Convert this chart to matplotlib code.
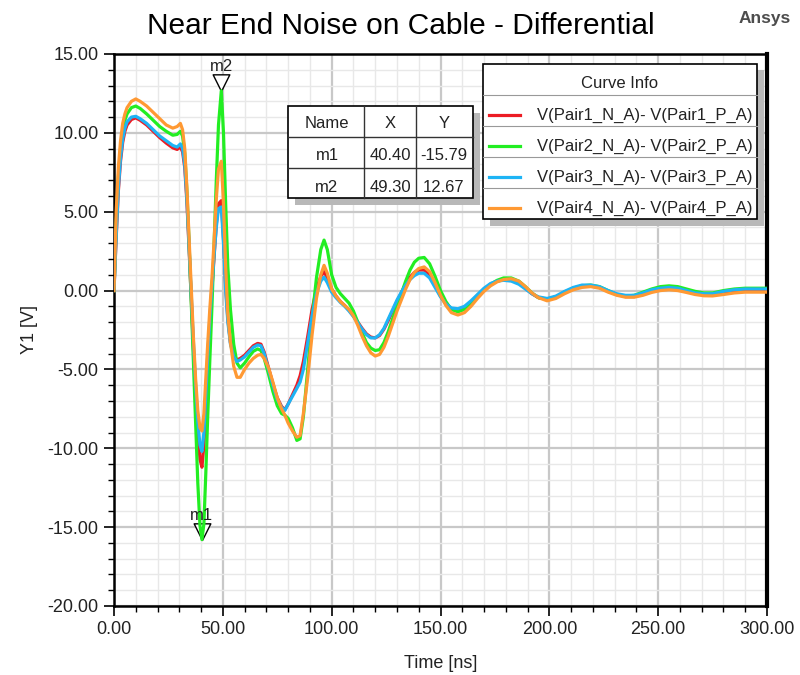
import matplotlib
matplotlib.use("Agg")
import matplotlib.pyplot as plt
from matplotlib.patches import Rectangle
from matplotlib.path import Path
from matplotlib.ticker import MultipleLocator, FormatStrFormatter

plt.rcParams['font.family'] = ['Liberation Sans', 'DejaVu Sans']

# time axis [ns]
time_ns = [0, 1, 2, 3, 4, 5, 6, 8, 10, 12,
           15, 18, 21, 24, 27, 29, 30.5, 31.5, 32.5, 33.5,
           34.5, 35.5, 36.5, 37.5, 38.5, 39.5, 40.4, 41.3, 42.2, 43,
           44, 45, 46, 47, 48, 49.3, 50.3, 51.3, 52.3, 53.5,
           55, 56.5, 58, 60, 62, 64, 66, 67.5, 69, 71,
           73, 75, 77, 78.5, 80, 82, 84, 85.5, 87, 89,
           91, 93, 95, 96.5, 98, 100, 102, 104, 106, 108,
           110, 112, 114, 116, 118, 120, 122, 124, 126, 128,
           130, 132, 134, 136, 138, 140, 142.5, 145, 147.5, 150,
           152.5, 155, 158, 161, 164, 167, 170, 173, 176, 179,
           182.5, 186, 189, 192, 195, 199, 203, 207, 211, 215,
           219, 223, 227, 231, 235, 239, 243, 247, 251, 255,
           259, 263, 267, 271, 275, 280, 285, 290, 295, 300]

pair1 = [0, 3.3, 6.3, 8.2, 9.4, 10.1, 10.5, 10.85, 10.95, 10.8,
         10.5, 10.1, 9.7, 9.35, 9.05, 8.95, 9.1, 8.8, 7.8, 5.6,
         2.6, -0.6, -3.7, -6.5, -8.9, -10.7, -11.2, -9.8, -7.2, -4.8,
         -2.2, 0.1, 2.2, 4.2, 5.5, 5.7, 3.3, 0.3, -1.8, -3.3,
         -4.1, -4.4, -4.3, -4.1, -3.8, -3.5, -3.35, -3.4, -3.9, -4.9,
         -5.9, -6.8, -7.35, -7.55, -7.2, -6.6, -6.0, -5.4, -4.5, -2.9,
         -1.2, 0.1, 0.9, 1.2, 0.8, 0.1, -0.35, -0.7, -0.95, -1.25,
         -1.6, -2.0, -2.4, -2.75, -2.95, -3.0, -2.85, -2.45, -1.9, -1.3,
         -0.7, -0.15, 0.4, 0.85, 1.15, 1.3, 1.3, 1.0, 0.35, -0.35,
         -0.85, -1.15, -1.25, -1.1, -0.75, -0.3, 0.1, 0.4, 0.6, 0.7,
         0.7, 0.5, 0.15, -0.2, -0.45, -0.55, -0.4, -0.1, 0.15, 0.3,
         0.3, 0.2, -0.05, -0.25, -0.38, -0.38, -0.22, -0.05, 0.08, 0.12,
         0.08, -0.05, -0.2, -0.27, -0.27, -0.15, -0.05, 0.0, 0.0, 0.0]

pair2 = [0, 4.2, 7.2, 9.0, 10.1, 10.8, 11.2, 11.6, 11.7, 11.55,
         11.2, 10.8, 10.4, 10.1, 9.85, 9.9, 10.1, 9.8, 8.7, 6.3,
         3.0, -0.8, -4.5, -8.5, -12.2, -14.9, -15.79, -14.8, -11.5, -8.2,
         -4.5, -1.0, 3.0, 7.0, 10.5, 12.67, 10.0, 5.5, 1.5, -1.2,
         -3.4, -4.6, -4.9, -4.6, -4.2, -3.85, -3.7, -3.8, -4.3, -5.3,
         -6.4, -7.3, -7.8, -7.9, -8.1, -8.7, -9.5, -9.4, -8.0, -5.0,
         -1.8, 0.8, 2.6, 3.2, 2.6, 1.0, 0.2, -0.2, -0.5, -0.8,
         -1.3, -2.0, -2.7, -3.3, -3.65, -3.8, -3.75, -3.3, -2.6, -1.8,
         -1.0, -0.2, 0.6, 1.3, 1.8, 2.05, 2.1, 1.7, 0.9, 0.0,
         -0.7, -1.2, -1.35, -1.2, -0.8, -0.35, 0.05, 0.4, 0.65, 0.8,
         0.8, 0.6, 0.25, -0.15, -0.45, -0.55, -0.4, -0.1, 0.15, 0.3,
         0.35, 0.25, 0.0, -0.25, -0.35, -0.3, -0.1, 0.1, 0.25, 0.3,
         0.25, 0.1, -0.05, -0.15, -0.15, 0.0, 0.1, 0.15, 0.15, 0.15]

pair3 = [0, 3.5, 6.5, 8.4, 9.6, 10.3, 10.7, 11.0, 11.05, 10.9,
         10.6, 10.2, 9.8, 9.5, 9.2, 9.1, 9.3, 9.0, 8.0, 5.8,
         2.8, -0.3, -3.3, -6.0, -8.3, -9.8, -10.2, -9.0, -6.5, -4.3,
         -1.8, 0.3, 2.3, 4.0, 5.2, 5.3, 3.0, 0.0, -2.0, -3.4,
         -4.2, -4.5, -4.4, -4.2, -3.9, -3.6, -3.45, -3.5, -4.0, -5.0,
         -6.0, -6.9, -7.4, -7.6, -7.2, -6.7, -6.2, -5.8, -5.0, -3.3,
         -1.6, -0.2, 0.6, 0.85, 0.5, -0.1, -0.45, -0.75, -1.0, -1.3,
         -1.65, -2.05, -2.45, -2.8, -3.0, -3.0, -2.8, -2.4, -1.8, -1.2,
         -0.6, -0.1, 0.35, 0.7, 0.95, 1.1, 1.1, 0.8, 0.2, -0.4,
         -0.85, -1.1, -1.15, -1.0, -0.65, -0.25, 0.15, 0.45, 0.6, 0.65,
         0.6, 0.4, 0.1, -0.2, -0.4, -0.5, -0.35, -0.05, 0.2, 0.35,
         0.35, 0.25, 0.0, -0.2, -0.3, -0.3, -0.15, 0.05, 0.15, 0.2,
         0.15, 0.0, -0.15, -0.2, -0.2, -0.05, 0.05, 0.1, 0.1, 0.1]

pair4 = [0, 5.0, 7.8, 9.5, 10.6, 11.2, 11.6, 12.0, 12.15, 12.0,
         11.7, 11.3, 10.9, 10.5, 10.3, 10.4, 10.6, 10.2, 9.0, 6.5,
         3.3, 0.0, -3.0, -5.6, -7.6, -8.7, -8.9, -7.8, -5.5, -3.5,
         -1.2, 0.8, 3.2, 5.8, 7.7, 8.2, 5.5, 1.5, -1.5, -3.3,
         -4.8, -5.5, -5.5, -5.0, -4.6, -4.3, -4.1, -4.05, -4.3, -4.9,
         -5.8, -6.8, -7.5, -7.9, -8.4, -8.9, -9.3, -9.2, -7.8, -5.5,
         -2.8, -0.5, 1.0, 1.6, 1.1, 0.1, -0.35, -0.7, -0.95, -1.2,
         -1.6, -2.2, -2.9, -3.5, -3.95, -4.15, -4.05, -3.6, -2.9, -2.1,
         -1.3, -0.6, 0.1, 0.7, 1.15, 1.4, 1.5, 1.2, 0.5, -0.3,
         -0.95, -1.4, -1.55, -1.4, -1.0, -0.5, -0.05, 0.3, 0.55, 0.7,
         0.75, 0.6, 0.25, -0.15, -0.45, -0.65, -0.5, -0.2, 0.05, 0.2,
         0.25, 0.15, -0.1, -0.3, -0.42, -0.42, -0.3, -0.12, 0.0, 0.05,
         0.0, -0.12, -0.25, -0.33, -0.34, -0.25, -0.15, -0.1, -0.1, -0.1]

names = ['V(Pair1_N_A)- V(Pair1_P_A)', 'V(Pair2_N_A)- V(Pair2_P_A)',
         'V(Pair3_N_A)- V(Pair3_P_A)', 'V(Pair4_N_A)- V(Pair4_P_A)']
colors = ['#ec1c24', '#22ee22', '#1eb4f5', '#ff9933']
series = [pair1, pair2, pair3, pair4]

marker_names = ['m1', 'm2']
marker_x = [40.40, 49.30]
marker_y = [-15.79, 12.67]

fig = plt.figure(figsize=(8, 6.75), dpi=100)
ax = fig.add_axes([114 / 800, 1 - 606 / 675, (767 - 114) / 800, (606 - 54) / 675])

for vals, c in zip(series, colors):
    ax.plot(time_ns, vals, color=c, lw=2.3, zorder=3, solid_joinstyle='round')

# markers: down triangle with tip on the point
tri = Path([(-0.5, 1.0), (0.5, 1.0), (0.0, 0.0), (-0.5, 1.0)],
           [Path.MOVETO, Path.LINETO, Path.LINETO, Path.CLOSEPOLY])
for nm, mx, my in zip(marker_names, marker_x, marker_y):
    ax.plot([mx], [my], marker=tri, ms=24, mfc='white', mec='black', mew=1.0,
            ls='none', zorder=2.5)
    ax.annotate(nm, (mx, my), xytext=(0, 12), textcoords='offset points',
                ha='center', va='bottom', fontsize=12, color='#222222', zorder=4)

ax.set_xlim(0, 300)
ax.set_ylim(-20, 15)
ax.xaxis.set_major_locator(MultipleLocator(50))
ax.xaxis.set_minor_locator(MultipleLocator(10))
ax.yaxis.set_major_locator(MultipleLocator(5))
ax.yaxis.set_minor_locator(MultipleLocator(1))
ax.xaxis.set_major_formatter(FormatStrFormatter('%.2f'))
ax.yaxis.set_major_formatter(FormatStrFormatter('%.2f'))
ax.grid(which='major', color='#c8c8c8', lw=1.6, zorder=0)
ax.grid(which='minor', color='#e8e8e8', lw=1.0, zorder=0)
ax.set_axisbelow(True)
ax.tick_params(which='major', direction='out', length=7, width=1.2,
               labelsize=13, colors='black', labelcolor='#222222', pad=4)
ax.tick_params(which='minor', direction='out', length=4, width=1.0)
for side in ['left', 'bottom', 'top']:
    ax.spines[side].set_linewidth(1.8)
ax.spines['right'].set_linewidth(3.0)
ax.set_xlabel('Time [ns]', fontsize=13, color='#222222', labelpad=12)
ax.set_ylabel('Y1 [V]', fontsize=13, color='#222222', labelpad=7)

# overlay in pixel coords for title, table and curve info box
ov = fig.add_axes([0, 0, 1, 1], zorder=10)
ov.set_xlim(0, 800)
ov.set_ylim(675, 0)
ov.axis('off')
ov.patch.set_alpha(0)

ov.text(401, 26, 'Near End Noise on Cable - Differential', ha='center', va='center',
        fontsize=21.5, color='black')
ov.text(765, 18, 'Ansys', ha='center', va='center', fontsize=12.5,
        fontweight='bold', color='#4d4d4d')

# marker table
ov.add_patch(Rectangle((295, 113), 185, 92, color='#b8b8b8', lw=0))
ov.add_patch(Rectangle((288, 106), 185, 92, facecolor='white', edgecolor='black', lw=1.2))
for xv in [364, 416]:
    ov.plot([xv, xv], [106, 198], color='#333333', lw=1.0)
for yv in [137, 168]:
    ov.plot([288, 473], [yv, yv], color='#333333', lw=1.0)
rows = [['Name', 'X', 'Y']] + [[nm, '%.2f' % mx, '%.2f' % my]
                               for nm, mx, my in zip(marker_names, marker_x, marker_y)]
col_x = [327, 390, 444]
row_y = [124, 156, 187]
for r, ry in zip(rows, row_y):
    for cell, cx in zip(r, col_x):
        ov.text(cx, ry, cell, ha='center', va='center', fontsize=12, color='#222222')

# curve info box
ov.add_patch(Rectangle((490, 70), 274, 156, color='#b8b8b8', lw=0))
ov.add_patch(Rectangle((483, 64), 274, 155, facecolor='white', edgecolor='black', lw=1.2))
ov.text(620, 83, 'Curve Info', ha='center', va='center', fontsize=12, color='#222222')
for yv in [95, 126, 157, 188]:
    ov.plot([483, 757], [yv, yv], color='#999999', lw=0.8)
for i, (nm, c) in enumerate(zip(names, colors)):
    ry = 115 + i * 31
    ov.plot([489, 520], [ry, ry], color=c, lw=2.3)
    ov.text(537, ry, nm, ha='left', va='center', fontsize=12, color='#222222')

fig.savefig('out.png', dpi=100)
